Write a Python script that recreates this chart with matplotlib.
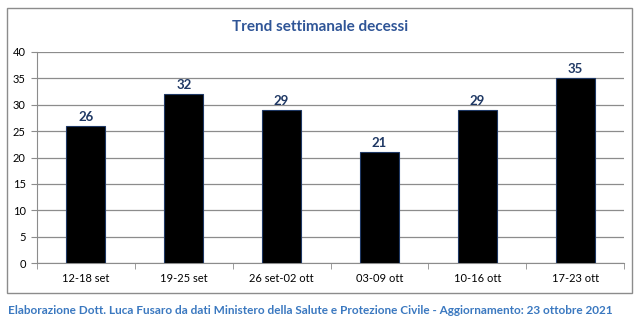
import matplotlib.pyplot as plt
from matplotlib.patches import Rectangle
from matplotlib.ticker import FixedLocator

plt.rcParams['font.family'] = ['Lato', 'DejaVu Sans']

weeks = ['12-18 set', '19-25 set', '26 set-02 ott', '03-09 ott', '10-16 ott', '17-23 ott']
deaths = [26, 32, 29, 21, 29, 35]

fig = plt.figure(figsize=(6.44, 3.28), dpi=100)
fig.patches.append(Rectangle((7 / 644, 1 - 293 / 328), 625 / 644, 285 / 328,
                             transform=fig.transFigure, fill=False,
                             edgecolor='#8c8c8c', lw=1))

ax = fig.add_axes([37 / 644, 1 - 263 / 328, 587 / 644, 211 / 328])
x = range(len(weeks))
bars = ax.bar(x, deaths, width=0.4, color='black', edgecolor='#1f3864', lw=0.8, zorder=3)
for xi, v in zip(x, deaths):
    ax.text(xi, v + 0.6, str(v), ha='center', va='bottom', fontsize=9.5,
            fontweight='bold', color='#1f3864')

ax.set_xlim(-0.5, len(weeks) - 0.5)
ax.set_ylim(0, 40)
ax.set_yticks(range(0, 41, 5))
ax.set_xticks(list(x))
ax.set_xticklabels(weeks, fontsize=8)
ax.xaxis.set_minor_locator(FixedLocator([i - 0.5 for i in range(len(weeks) + 1)]))
ax.tick_params(axis='x', which='major', length=0, pad=7)
ax.tick_params(axis='x', which='minor', length=4, color='#8c8c8c', direction='out')
ax.tick_params(axis='y', length=4, color='#8c8c8c', labelsize=8, pad=4)
ax.grid(axis='y', color='#8c8c8c', lw=0.9, zorder=0)
for s in ['top', 'right']:
    ax.spines[s].set_visible(False)
for s in ['left', 'bottom']:
    ax.spines[s].set_color('#8c8c8c')

fig.text(320 / 644, 1 - 27 / 328, 'Trend settimanale decessi', ha='center', va='center',
         fontsize=11, fontweight='bold', color='#2f5597')
fig.text(8 / 644, 1 - 310 / 328,
         'Elaborazione Dott. Luca Fusaro da dati Ministero della Salute e Protezione Civile - Aggiornamento: 23 ottobre 2021',
         ha='left', va='center', fontsize=8.5, fontweight='bold', color='#3a78c0')

fig.savefig('out.png', dpi=100)
